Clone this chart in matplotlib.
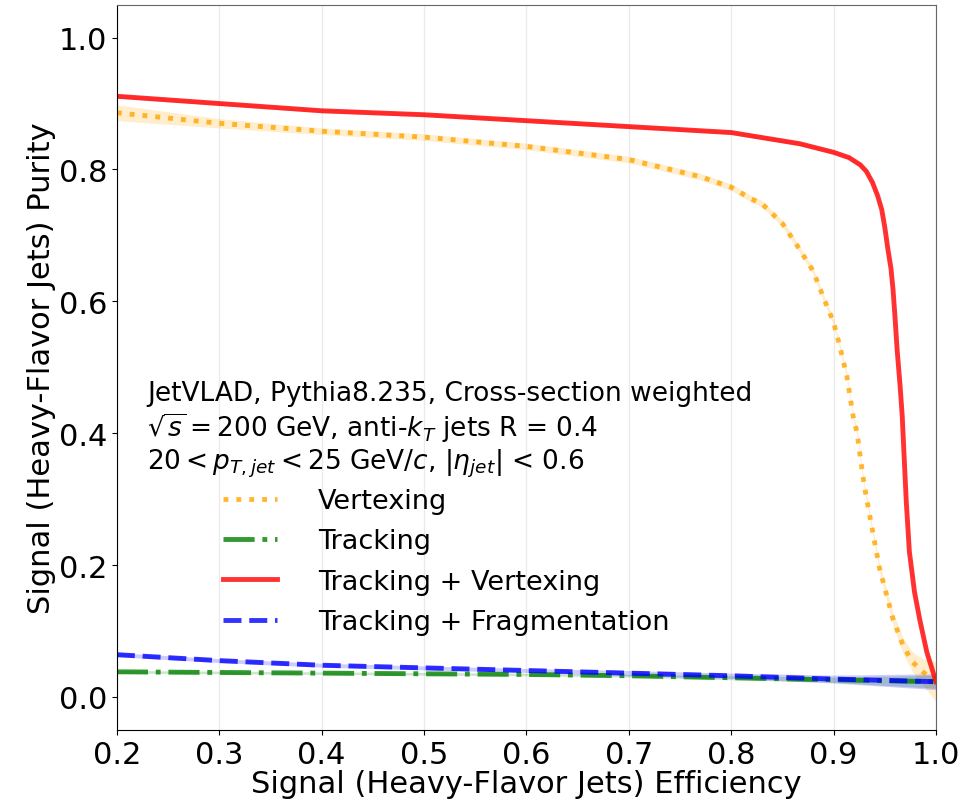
import numpy as np
import matplotlib
matplotlib.use("Agg")
import matplotlib.pyplot as plt

# purity vs efficiency for each feature set
vtx_eff = [0.2, 0.3, 0.4, 0.5, 0.6, 0.7, 0.77, 0.8, 0.82, 0.83, 0.85, 0.865,
           0.88, 0.89, 0.9, 0.906, 0.913, 0.919, 0.923, 0.926, 0.93, 0.935,
           0.94, 0.945, 0.952, 0.958, 0.968, 0.977, 0.987, 1.0]
vtx_pur = [0.886, 0.870, 0.858, 0.849, 0.835, 0.815, 0.789, 0.773, 0.755,
           0.748, 0.718, 0.683, 0.646, 0.606, 0.568, 0.532, 0.486, 0.426,
           0.400, 0.364, 0.320, 0.277, 0.235, 0.194, 0.153, 0.118, 0.077,
           0.053, 0.038, 0.023]
vtx_err = [0.012, 0.007, 0.005, 0.005, 0.005, 0.005, 0.005, 0.005, 0.005,
           0.005, 0.005, 0.005, 0.005, 0.005, 0.005, 0.005, 0.005, 0.005,
           0.005, 0.005, 0.006, 0.006, 0.006, 0.007, 0.008, 0.010, 0.012,
           0.015, 0.020, 0.030]

trk_eff = [0.2, 0.3, 0.4, 0.5, 0.6, 0.7, 0.8, 0.9, 1.0]
trk_pur = [0.038, 0.037, 0.036, 0.035, 0.034, 0.032, 0.029, 0.026, 0.023]
trk_err = [0.002, 0.002, 0.002, 0.002, 0.002, 0.002, 0.003, 0.004, 0.010]

tv_eff = [0.2, 0.3, 0.4, 0.5, 0.6, 0.7, 0.8, 0.867, 0.9, 0.915, 0.926, 0.932,
          0.938, 0.943, 0.947, 0.950, 0.953, 0.956, 0.958, 0.960, 0.962,
          0.965, 0.967, 0.969, 0.971, 0.974, 0.979, 0.984, 0.991, 1.0]
tv_pur = [0.911, 0.900, 0.889, 0.883, 0.874, 0.865, 0.856, 0.839, 0.826,
          0.818, 0.807, 0.797, 0.780, 0.760, 0.739, 0.712, 0.679, 0.650,
          0.618, 0.575, 0.527, 0.470, 0.426, 0.360, 0.295, 0.220, 0.159,
          0.118, 0.068, 0.023]
tv_err = [0.003] * len(tv_eff)

tf_eff = [0.2, 0.3, 0.4, 0.5, 0.6, 0.7, 0.8, 0.9, 1.0]
tf_pur = [0.064, 0.055, 0.048, 0.044, 0.040, 0.036, 0.032, 0.027, 0.023]
tf_err = [0.003, 0.003, 0.003, 0.003, 0.003, 0.004, 0.004, 0.006, 0.012]

curves = [
    ("Vertexing", vtx_eff, vtx_pur, vtx_err, "orange", ":"),
    ("Tracking", trk_eff, trk_pur, trk_err, "green", "-."),
    ("Tracking + Vertexing", tv_eff, tv_pur, tv_err, "red", "-"),
    ("Tracking + Fragmentation", tf_eff, tf_pur, tf_err, "blue", "--"),
]

fig = plt.figure(figsize=(9.74, 8.04), dpi=100)
ax = fig.add_axes([0.120, 0.091, 0.841, 0.902])

for label, eff, pur, err, col, ls in curves:
    eff = np.array(eff)
    pur = np.array(pur)
    err = np.array(err)
    ax.fill_between(eff, pur - err, pur + err, color=col, alpha=0.2, lw=0)
    ax.plot(eff, pur, color=col, ls=ls, lw=3.5, alpha=0.8, label=label)

ax.set_xlim(0.2, 1.0)
ax.set_ylim(-0.05, 1.05)
ax.set_xticks(np.arange(0.2, 1.01, 0.1))
ax.set_yticks(np.arange(0.0, 1.01, 0.2))
ax.tick_params(labelsize=22)
ax.grid(axis="x", color="0.92", lw=1)
ax.set_axisbelow(True)
for side in ["top", "right"]:
    ax.spines[side].set_color("0.4")

ax.set_xlabel("Signal (Heavy-Flavor Jets) Efficiency", fontsize=22, labelpad=0)
ax.set_ylabel("Signal (Heavy-Flavor Jets) Purity", fontsize=22, labelpad=2)

info = ("JetVLAD, Pythia8.235, Cross-section weighted\n"
        r"$\sqrt{s} = 200$ GeV, anti-$k_{T}$ jets R = 0.4" "\n"
        r"$20 < p_{T,jet} < 25$ GeV/$c$, $|\eta_{jet}|$ < 0.6")
ax.text(0.037, 0.482, info, transform=ax.transAxes, fontsize=19,
        va="top", ha="left", linespacing=1.15)

ax.legend(loc="upper left", bbox_to_anchor=(0.1, 0.367), frameon=False,
          fontsize=19.5, handlelength=2.0, handletextpad=1.5, labelspacing=0.53)

fig.savefig("out.png", dpi=100)
